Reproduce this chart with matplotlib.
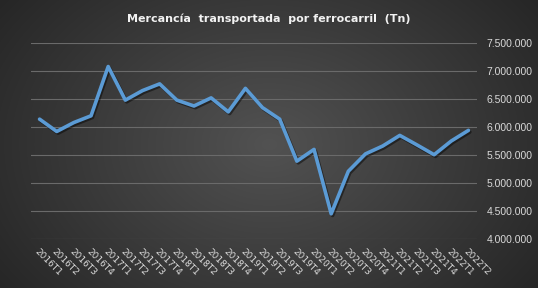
import numpy as np
import matplotlib
matplotlib.use("Agg")
import matplotlib.pyplot as plt
import matplotlib.patheffects as pe
from matplotlib.ticker import FuncFormatter

categories = ["2016T1", "2016T2", "2016T3", "2016T4",
              "2017T1", "2017T2", "2017T3", "2017T4",
              "2018T1", "2018T2", "2018T3", "2018T4",
              "2019T1", "2019T2", "2019T3", "2019T4",
              "2020T1", "2020T2", "2020T3", "2020T4",
              "2021T1", "2021T2", "2021T3", "2021T4",
              "2022T1", "2022T2"]
values = [6140000, 5920000, 6080000, 6200000,
          7080000, 6480000, 6650000, 6770000,
          6480000, 6375000, 6520000, 6270000,
          6690000, 6345000, 6140000, 5390000,
          5600000, 4450000, 5210000, 5520000,
          5660000, 5850000, 5680000, 5505000,
          5750000, 5940000]
yticks = [4000000, 4500000, 5000000, 5500000, 6000000, 6500000, 7000000, 7500000]
title = "Mercancía  transportada  por ferrocarril  (Tn)"

W, H = 538, 288
fig = plt.figure(figsize=(W / 100, H / 100), dpi=100)

# radial gradient background
bg = fig.add_axes([0, 0, 1, 1], zorder=-10)
yy, xx = np.mgrid[0:H, 0:W]
cx, cy = W * 0.5, H * 0.5
r = np.sqrt(((xx - cx) / (W * 0.62)) ** 2 + ((yy - cy) / (H * 0.85)) ** 2)
r = np.clip(r, 0, 1)
light = np.array([0x52, 0x52, 0x52]) / 255
dark = np.array([0x26, 0x26, 0x26]) / 255
img = light[None, None, :] * (1 - r[..., None]) + dark[None, None, :] * r[..., None]
bg.imshow(img, aspect="auto", extent=[0, 1, 0, 1])
bg.axis("off")

left, right = 31 / W, 477 / W
bottom, top = 1 - 239 / H, 1 - 43 / H
ax = fig.add_axes([left, bottom, right - left, top - bottom])
ax.patch.set_alpha(0)

x = np.arange(len(categories))
ax.plot(x, values, color="#5b9bd5", lw=2.6, solid_joinstyle="round", solid_capstyle="round",
        path_effects=[pe.SimpleLineShadow(offset=(1, -1.2), shadow_color="black", alpha=0.45),
                      pe.Normal()], zorder=3)

ax.set_xlim(-0.5, len(categories) - 0.5)
ax.set_ylim(4000000, 7500000)
ax.set_yticks(yticks)
ax.yaxis.set_major_formatter(FuncFormatter(lambda v, p: f"{int(v):,}".replace(",", ".")))
ax.yaxis.tick_right()
ax.tick_params(axis="y", length=0, pad=7, labelsize=7.5, labelcolor="#d9d9d9")
for lab in ax.get_yticklabels():
    lab.set_fontfamily("Liberation Sans")
ax.set_xticks(x)
ax.set_xticklabels(categories, rotation=-45, ha="left", va="top", rotation_mode="anchor",
                   fontsize=6.5, color="#d9d9d9")
ax.tick_params(axis="x", length=0, pad=6)
ax.grid(axis="y", color="#6a6a6a", lw=0.8)
ax.set_axisbelow(True)
for s in ax.spines.values():
    s.set_visible(False)

fig.text(0.5, 1 - 19 / H, title, ha="center", va="center", color="#f2f2f2",
         fontsize=8, fontweight="bold")

fig.savefig("out.png", dpi=100)
